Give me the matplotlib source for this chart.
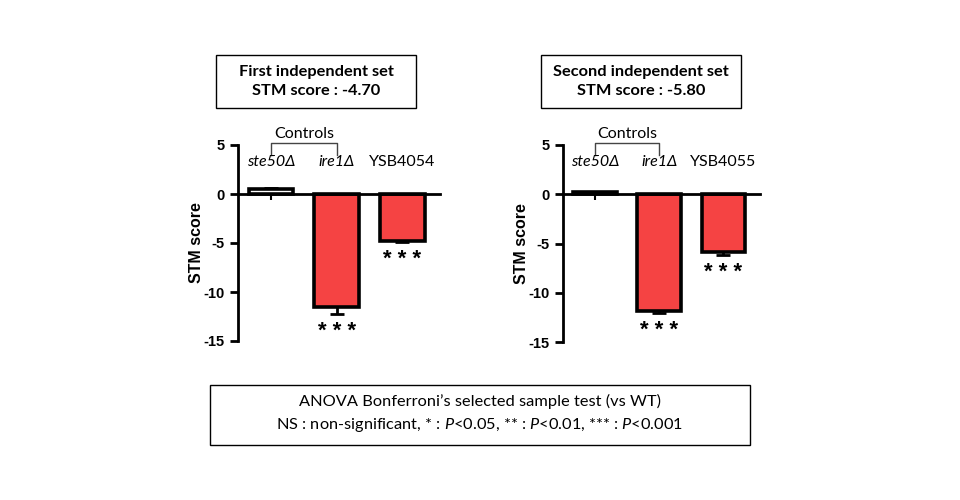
import matplotlib
matplotlib.use('Agg')
import matplotlib.pyplot as plt
from matplotlib.patches import Rectangle

plt.rcParams['font.family'] = ['Lato', 'DejaVu Sans']
plt.rcParams['mathtext.fontset'] = 'custom'
plt.rcParams['mathtext.rm'] = 'Lato'
plt.rcParams['mathtext.it'] = 'Lato:italic'

strains_1 = ['ste50Δ', 'ire1Δ', 'YSB4054']
strains_2 = ['ste50Δ', 'ire1Δ', 'YSB4055']
italic_label = [True, True, False]
scores_1 = [0.5, -11.55, -4.8]
errors_1 = [0.1, 0.65, 0.1]
scores_2 = [0.2, -11.9, -5.9]
errors_2 = [0.05, 0.2, 0.3]
signif_1 = ['', '* * *', '* * *']
signif_2 = ['', '* * *', '* * *']
titles = ['First independent set\nSTM score : -4.70',
          'Second independent set\nSTM score : -5.80']
yticks = [5, 0, -5, -10, -15]
footnote = ("ANOVA Bonferroni\u2019s selected sample test (vs WT)\n"
            "NS : non-significant, * : $P$<0.05, ** : $P$<0.01, *** : $P$<0.001")

RED = '#f54343'
W, H = 960, 500

fig = plt.figure(figsize=(9.6, 5.0), dpi=100)


def fig_rect(x0, y0, x1, y1):
    # pixel box (top-left origin) -> figure fraction rect
    return [x0 / W, 1 - y1 / H, (x1 - x0) / W, (y1 - y0) / H]


def draw_panel(ax, strains, scores, errors, signif):
    colors = ['white', RED, RED]
    x = list(range(len(strains)))
    ax.bar(x, scores, width=0.68, color=colors, edgecolor='black', linewidth=2.6, zorder=2)
    # error bars sit behind the bars so only the outer half shows
    ax.errorbar(x, scores, yerr=errors, fmt='none', ecolor='black', elinewidth=2,
                capsize=5, capthick=2, zorder=1)
    ax.set_xlim(-0.5, 2.57)
    ax.set_ylim(-15, 5)
    ax.spines['top'].set_visible(False)
    ax.spines['right'].set_visible(False)
    ax.spines['bottom'].set_position(('data', 0))
    ax.spines['left'].set_linewidth(2)
    ax.spines['bottom'].set_linewidth(2)
    ax.spines['bottom'].set_zorder(4)
    ax.set_xticks(x)
    ax.set_xticklabels([])
    ax.tick_params(axis='x', direction='out', length=4, width=1.5)
    ax.set_yticks(yticks)
    ax.set_yticklabels([str(t) for t in yticks], fontfamily='Liberation Sans',
                       fontweight='bold', fontsize=10.5)
    ax.tick_params(axis='y', direction='out', length=6, width=2)
    ax.set_ylabel('STM score', fontfamily='Liberation Sans', fontweight='bold',
                  fontsize=11.5, labelpad=0)
    for i, name in enumerate(strains):
        ax.text(i, 4.0, name, ha='center', va='top', fontsize=11.5,
                style='italic' if italic_label[i] else 'normal', clip_on=False)
    for i, s in enumerate(signif):
        if s:
            ax.annotate(s, (i, scores[i] - errors[i]), xytext=(0, -5),
                        textcoords='offset points', ha='center', va='top',
                        fontfamily='Liberation Sans', fontweight='bold', fontsize=16)
    # "Controls" bracket over the first two strains
    ax.plot([0, 0, 1, 1], [4.0, 5.2, 5.2, 4.0], color='#444444', lw=1, clip_on=False)
    ax.text(0.5, 5.4, 'Controls', ha='center', va='bottom', fontsize=11.5)


ax1 = fig.add_axes(fig_rect(238, 145, 440, 341))
draw_panel(ax1, strains_1, scores_1, errors_1, signif_1)
ax2 = fig.add_axes(fig_rect(563, 145, 760, 342))
draw_panel(ax2, strains_2, scores_2, errors_2, signif_2)

# boxed titles
for (x0, x1), title in zip([(216, 416), (541, 741)], titles):
    fig.patches.append(Rectangle((x0 / W, 1 - 108 / H), (x1 - x0) / W, 53 / H,
                                 transform=fig.transFigure, fill=False,
                                 edgecolor='black', linewidth=1))
    fig.text((x0 + x1) / 2 / W, 1 - 81.5 / H, title, ha='center', va='center',
             fontsize=11.8, fontweight='bold', linespacing=1.45)

fig.patches.append(Rectangle((210 / W, 1 - 445 / H), 540 / W, 60 / H,
                             transform=fig.transFigure, fill=False,
                             edgecolor='black', linewidth=1))
fig.text(480 / W, 1 - 414 / H, footnote, ha='center', va='center', fontsize=11.8,
         linespacing=1.5)

fig.savefig('out.png', dpi=100)
